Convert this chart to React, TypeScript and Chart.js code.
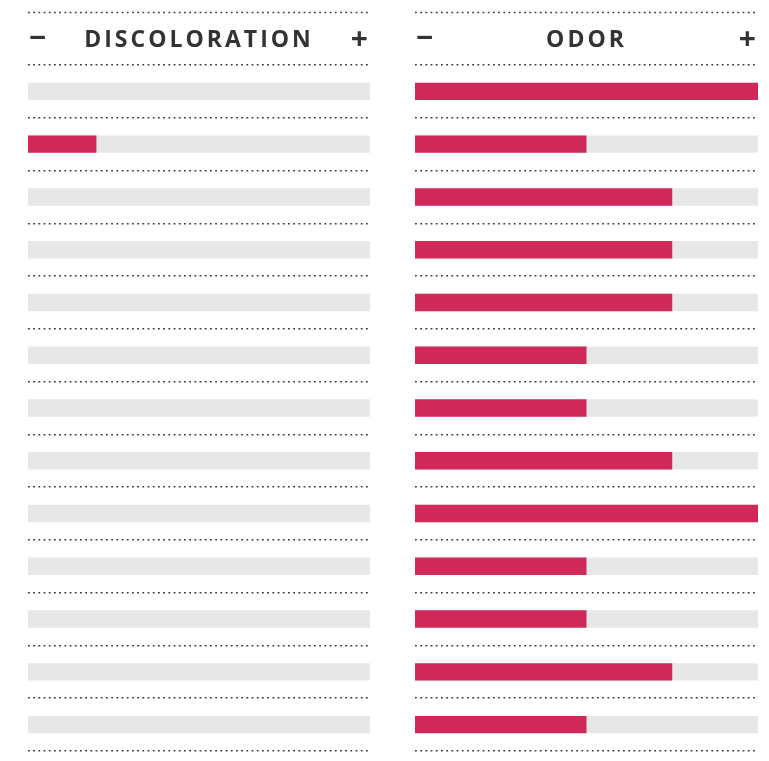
import React, { useEffect, useRef } from "react";
import { Chart, registerables } from "chart.js";

Chart.register(...registerables);

const rows = ["1", "2", "3", "4", "5", "6", "7", "8", "9", "10", "11", "12", "13"];
const discoloration = [0, 20, 0, 0, 0, 0, 0, 0, 0, 0, 0, 0, 0];
const odor = [100, 50, 75, 75, 75, 50, 50, 75, 100, 50, 50, 75, 50];
const trackMax = [100, 100, 100, 100, 100, 100, 100, 100, 100, 100, 100, 100, 100];
const panelTitles = ["DISCOLORATION", "ODOR"];

const RED = "#d1285a";
const TRACK = "#e7e7e7";
const DOT = "#3a3a3a";
const DASH = [1.8, 3.4];

const headerPlugin = {
  id: "panelHeader",
  afterDraw(chart: any, _args: any, opts: any) {
    const { ctx, chartArea } = chart;
    const rowH = (chartArea.bottom - chartArea.top) / rows.length;
    const top = chartArea.top - rowH;
    ctx.save();
    ctx.strokeStyle = DOT;
    ctx.lineWidth = 1.6;
    ctx.setLineDash(DASH);
    ctx.beginPath();
    const yy = Math.round(top) + 0.5;
    ctx.moveTo(chartArea.left, yy);
    ctx.lineTo(chartArea.right, yy);
    ctx.stroke();
    ctx.setLineDash([]);
    const cy = top + rowH / 2 + 2;
    ctx.fillStyle = "#333";
    ctx.textBaseline = "middle";
    ctx.font = "bold 23px 'Open Sans', sans-serif";
    (ctx as any).letterSpacing = "3px";
    ctx.textAlign = "center";
    ctx.fillText(opts.title, (chartArea.left + chartArea.right) / 2, cy);
    (ctx as any).letterSpacing = "0px";
    ctx.font = "bold 30px 'Open Sans', sans-serif";
    ctx.textAlign = "left";
    ctx.fillText("\u2212", chartArea.left + 1, cy - 1);
    ctx.textAlign = "right";
    ctx.fillText("+", chartArea.right - 2, cy);
    ctx.restore();
  },
};

function Panel({ values, title, width, padLeft, padRight }: any) {
  const ref = useRef<HTMLCanvasElement>(null);
  useEffect(() => {
    const chart = new Chart(ref.current!, {
      type: "bar",
      data: {
        labels: rows,
        datasets: [
          {
            data: values,
            backgroundColor: RED,
            order: 0,
            grouped: false,
            barPercentage: 1,
            categoryPercentage: 0.33,
          },
          {
            data: trackMax,
            backgroundColor: TRACK,
            order: 1,
            grouped: false,
            barPercentage: 1,
            categoryPercentage: 0.33,
          },
        ],
      },
      options: {
        indexAxis: "y",
        animation: false,
        responsive: true,
        maintainAspectRatio: false,
        layout: { padding: { left: padLeft, right: padRight, top: 57, bottom: 2 } },
        plugins: {
          legend: { display: false },
          tooltip: { enabled: false },
          panelHeader: { title },
        } as any,
        scales: {
          x: { display: false, min: 0, max: 100 },
          y: {
            display: true,
            ticks: { display: false },
            afterFit: (s: any) => {
              s.width = 0;
            },
            grid: {
              offset: true,
              color: DOT,
              lineWidth: 1.6,
              drawTicks: false,
            },
            border: { display: false, dash: DASH },
          },
        },
      },
      plugins: [headerPlugin],
    });
    return () => chart.destroy();
  }, []);
  return (
    <div style={{ position: "relative", width, height: 745 }}>
      <canvas ref={ref} />
    </div>
  );
}

export default function App() {
  return (
    <div style={{ display: "flex", width: 753, height: 745 }}>
      <Panel values={discoloration} title={panelTitles[0]} width={384} padLeft={20} padRight={22} />
      <Panel values={odor} title={panelTitles[1]} width={369} padLeft={23} padRight={3} />
    </div>
  );
}
